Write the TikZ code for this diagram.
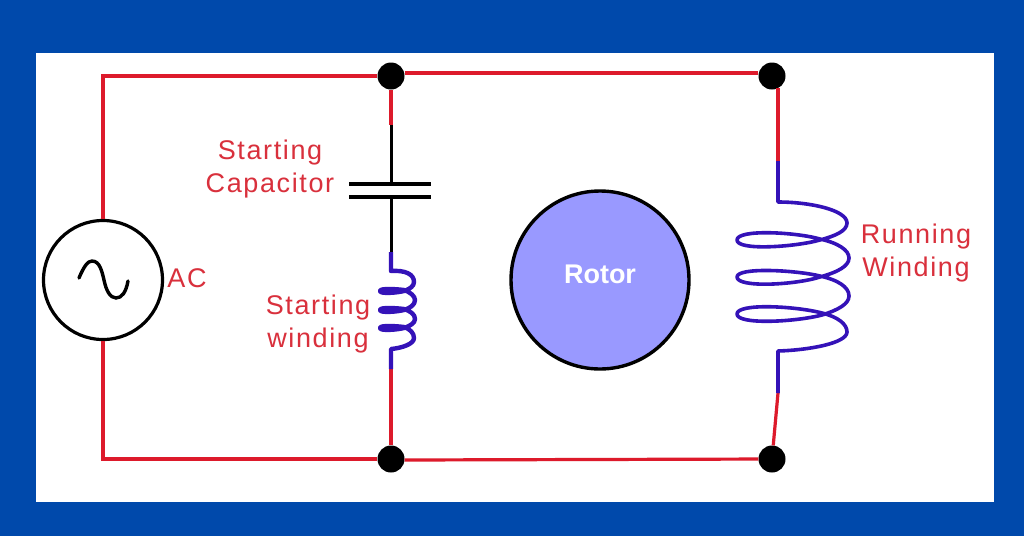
\documentclass[tikz,border=0pt]{standalone}
\usepackage{fontspec}
\setmainfont{Liberation Sans}
\usepackage{xcolor}
\usetikzlibrary{positioning}
\definecolor{framecol}{HTML}{0049AB}
\definecolor{wirecol}{HTML}{DD1A2B}
\definecolor{labelcol}{HTML}{D9303C}
\definecolor{coilcol}{HTML}{3412B8}
\definecolor{rotorcol}{HTML}{9999FF}
\tikzset{
    wire/.style={draw=wirecol,line width=3.2pt},
    lead/.style={draw=black,line width=3pt},
    coil/.style={draw=coilcol,line width=3.6pt,line join=round},
    plate/.style={draw=black,line width=3.4pt},
    dot/.style={circle,fill=black,inner sep=0pt,minimum size=27pt},
    label/.style={text=labelcol,font=\fontsize{27}{33}\selectfont\addfontfeature{LetterSpace=6},align=center,inner sep=0pt}
}
\begin{document}
\begin{tikzpicture}[x=1pt,y=-1pt]
    \useasboundingbox (0,0) rectangle (1024,536);
    \fill[framecol] (0,0) rectangle (1024,536);
    \fill[white] (36,53) rectangle (994,502);
    \begin{scope}[every node/.style={dot}]
    \node (tl) at (391,76) {};
    \node (tr) at (772,76) {};
    \node (bl) at (391,459) {};
    \node (br) at (772,459) {};
    \end{scope}
    \node[circle,draw=black,line width=3.2pt,fill=white,inner sep=0pt,minimum size=119pt] (ac) at (103,280) {};
    \node[circle,draw=black,line width=3.4pt,fill=rotorcol,inner sep=0pt,minimum size=178pt,text=white,font=\bfseries\fontsize{27}{30}\selectfont] (rotor) at (600,280) {\raisebox{12pt}{Rotor}};
    \coordinate (cornertop) at (103,76);
    \coordinate (cornerbot) at (103,459);
    \coordinate (capin) at (391,125);
    \coordinate (plateup) at (391,184);
    \coordinate (platedown) at (391,197);
    \coordinate (startin) at (391,252);
    \coordinate (startout) at (391,369);
    \coordinate (runtop) at (778,88);
    \coordinate (runin) at (778,161);
    \coordinate (runout) at (778,393);
    \begin{scope}[every path/.style={wire}]
    \path (ac) -- (cornertop) -- (tl);
    \path (ac) -- (cornerbot) -- (bl);
    \path ([yshift=3pt]tl.east) -- ([yshift=3pt]tr.west);
    \path ([yshift=-1pt]bl.east) -- (br);
    \path (tl) -- (capin);
    \path (startout) -- (bl);
    \path (runtop) -- (runin);
    \path (runout) -- (br);
    \end{scope}
    \draw[lead] (capin) -- (plateup);
    \draw[lead] (platedown) -- (startin);
    \draw[plate] (349,184) -- (431,184);
    \draw[plate] (349,197) -- (431,197);
    \draw[line width=3.4pt,line cap=round] (79,278) .. controls (84,266) and (88,261) .. (92,261) .. controls (100,261) and (102,272) .. (104,280) .. controls (106,290) and (110,298) .. (116,298) .. controls (122,298) and (126,292) .. (128,281);
    \draw[coil,line width=4.4pt] (startin) -- (391,271) .. controls (405,270) and (414,274) .. (414,282) .. controls (414,286) and (410,289) .. (404,291) .. controls (396,293) and (380,294) .. (380,291) .. controls (380,288) and (396,289) .. (404,290) .. controls (410,292) and (415,296) .. (415,300) .. controls (415,305) and (410,308) .. (404,310) .. controls (396,312) and (380,313) .. (380,310) .. controls (380,307) and (396,308) .. (404,309) .. controls (410,311) and (415,314) .. (415,319) .. controls (415,323) and (410,326) .. (404,328) .. controls (396,330) and (380,331) .. (380,328) .. controls (380,325) and (396,326) .. (404,327) .. controls (410,329) and (414,333) .. (414,338) .. controls (414,344) and (402,348) .. (391,349) -- (startout);
    \draw[coil] (runin) -- (778,202) .. controls (810,202) and (847,210) .. (847,223) .. controls (847,231) and (835,236) .. (820,240) .. controls (795,247) and (737,251) .. (737,240) .. controls (737,229) and (795,232) .. (820,239) .. controls (838,243) and (849,250) .. (849,258) .. controls (849,266) and (838,272) .. (820,277) .. controls (795,285) and (737,288) .. (737,277) .. controls (737,267) and (795,270) .. (820,276) .. controls (838,280) and (849,287) .. (849,296) .. controls (849,304) and (838,310) .. (822,315) .. controls (795,322) and (737,325) .. (737,314) .. controls (737,303) and (795,306) .. (822,313) .. controls (838,317) and (847,324) .. (847,332) .. controls (847,343) and (810,350) .. (778,351) -- (runout);
    \node[label] (aclabel) at (187,278) {AC};
    \node[label] (caplabel) at (270,169) {Starting\\Capacitor};
    \node[label] (startlabel) at (318,324) {Starting\\winding};
    \node[label] (runlabel) at (916,253) {Running\\Winding};
\end{tikzpicture}
\end{document}
